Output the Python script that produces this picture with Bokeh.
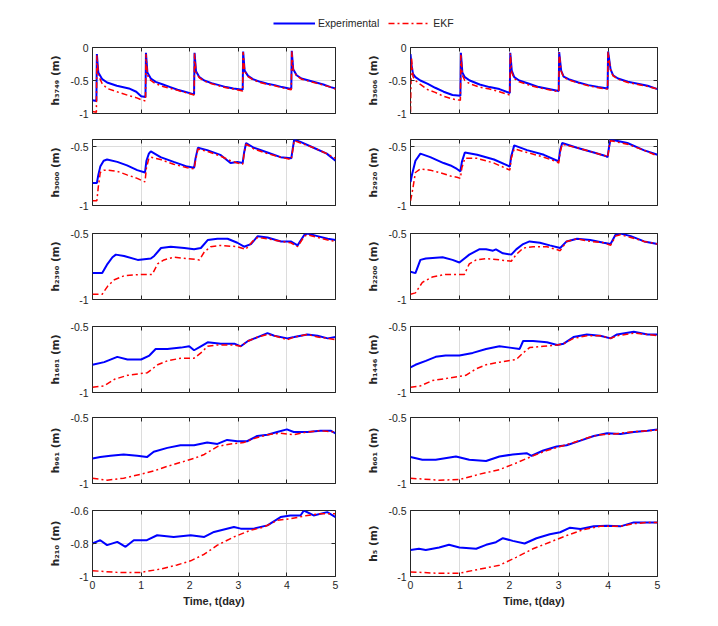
from bokeh.plotting import figure
from bokeh.layouts import column, row
from bokeh.models import (Range1d, FixedTicker, Legend, LegendItem, LinearAxis,
                          PrintfTickFormatter, CustomJSTickFormatter)
from bokeh.embed import file_html
from bokeh.resources import INLINE

# ---------------- data ----------------
# h3749 (row 1, left)
T_3749 = [0, 0.08, 0.09, 0.12, 0.2, 0.3, 0.5, 0.75, 0.9, 1.0, 1.09,
          1.10, 1.13, 1.2, 1.3, 1.45, 1.6, 1.75, 1.9, 2.09,
          2.10, 2.13, 2.2, 2.3, 2.45, 2.6, 2.75, 2.9, 3.09,
          3.10, 3.13, 3.2, 3.3, 3.45, 3.6, 3.75, 3.9, 4.09,
          4.10, 4.13, 4.2, 4.3, 4.45, 4.6, 4.75, 4.9, 5.0]
EXP_3749 = [-0.80, -0.81, -0.10, -0.38, -0.48, -0.53, -0.58, -0.62, -0.67, -0.74, -0.75,
            -0.08, -0.38, -0.47, -0.52, -0.56, -0.60, -0.64, -0.67, -0.71,
            -0.08, -0.36, -0.45, -0.50, -0.54, -0.57, -0.60, -0.62, -0.64,
            -0.06, -0.35, -0.43, -0.48, -0.52, -0.55, -0.57, -0.60, -0.63,
            -0.05, -0.33, -0.42, -0.47, -0.50, -0.53, -0.56, -0.60, -0.62]
EKF_3749 = [-0.97, -0.98, -0.12, -0.42, -0.55, -0.62, -0.67, -0.73, -0.76, -0.79, -0.81,
            -0.10, -0.42, -0.50, -0.55, -0.59, -0.62, -0.65, -0.68, -0.72,
            -0.09, -0.38, -0.46, -0.51, -0.55, -0.58, -0.61, -0.63, -0.66,
            -0.07, -0.36, -0.44, -0.49, -0.53, -0.56, -0.58, -0.61, -0.64,
            -0.06, -0.34, -0.43, -0.48, -0.51, -0.54, -0.57, -0.60, -0.63]

# h3606 (row 1, right)
T_3606 = [0, 0.02, 0.05, 0.1, 0.2, 0.35, 0.5, 0.67, 0.85, 1.01,
          1.02, 1.05, 1.1, 1.2, 1.4, 1.6, 1.8, 2.01,
          2.02, 2.05, 2.1, 2.2, 2.4, 2.6, 2.8, 3.0,
          3.01, 3.05, 3.1, 3.2, 3.4, 3.6, 3.8, 3.99,
          4.0, 4.05, 4.1, 4.2, 4.4, 4.6, 4.8, 5.0]
EXP_3606 = [-0.10, -0.26, -0.40, -0.45, -0.50, -0.55, -0.61, -0.67, -0.72, -0.73,
            -0.08, -0.38, -0.45, -0.50, -0.56, -0.60, -0.63, -0.69,
            -0.08, -0.35, -0.45, -0.50, -0.55, -0.60, -0.63, -0.66,
            -0.07, -0.35, -0.44, -0.48, -0.53, -0.57, -0.60, -0.62,
            -0.06, -0.33, -0.42, -0.47, -0.52, -0.55, -0.58, -0.63]
EKF_3606 = [-0.98, -0.15, -0.44, -0.50, -0.56, -0.64, -0.68, -0.74, -0.78, -0.80,
            -0.10, -0.42, -0.50, -0.55, -0.60, -0.63, -0.67, -0.72,
            -0.09, -0.38, -0.47, -0.52, -0.57, -0.61, -0.64, -0.67,
            -0.08, -0.36, -0.45, -0.49, -0.54, -0.58, -0.61, -0.63,
            -0.07, -0.34, -0.43, -0.48, -0.53, -0.56, -0.59, -0.63]

# h3000 (row 2, left)
T_3000 = [0, 0.09, 0.12, 0.16, 0.23, 0.3, 0.51, 0.71, 0.92,
          1.08, 1.11, 1.16, 1.2, 1.4, 1.67, 1.95,
          2.09, 2.12, 2.17, 2.36, 2.63, 2.84, 2.98,
          3.09, 3.12, 3.16, 3.32, 3.6, 3.87,
          4.09, 4.12, 4.15, 4.28, 4.55, 4.82, 5.0]
EXP_3000 = [-0.81, -0.81, -0.74, -0.67, -0.62, -0.61, -0.63, -0.66, -0.70,
            -0.72, -0.62, -0.56, -0.54, -0.59, -0.63, -0.67,
            -0.68, -0.60, -0.51, -0.53, -0.57, -0.64, -0.63,
            -0.64, -0.55, -0.47, -0.51, -0.55, -0.59,
            -0.60, -0.52, -0.44, -0.46, -0.51, -0.56, -0.62]
EKF_3000 = [-0.96, -0.96, -0.84, -0.72, -0.70, -0.70, -0.71, -0.74, -0.77,
            -0.80, -0.68, -0.60, -0.59, -0.61, -0.65, -0.68,
            -0.69, -0.62, -0.52, -0.54, -0.58, -0.62, -0.64,
            -0.65, -0.56, -0.48, -0.52, -0.56, -0.59,
            -0.61, -0.53, -0.45, -0.47, -0.51, -0.56, -0.60]

# h2920 (row 2, right)
T_2920 = [0, 0.03, 0.1, 0.2, 0.4, 0.67, 0.81, 0.94,
          1.01, 1.04, 1.1, 1.35, 1.69, 1.96,
          2.01, 2.04, 2.1, 2.36, 2.7, 2.97,
          3.0, 3.03, 3.07, 3.37, 3.71, 3.95,
          3.99, 4.02, 4.05, 4.39, 4.72, 5.0]
EXP_2920 = [-0.80, -0.74, -0.62, -0.56, -0.59, -0.64, -0.66, -0.69,
            -0.71, -0.63, -0.55, -0.57, -0.61, -0.66,
            -0.67, -0.58, -0.49, -0.53, -0.57, -0.62,
            -0.62, -0.53, -0.47, -0.51, -0.55, -0.58,
            -0.59, -0.50, -0.44, -0.47, -0.53, -0.57]
EKF_2920 = [-0.96, -0.90, -0.72, -0.69, -0.70, -0.73, -0.75, -0.76,
            -0.77, -0.68, -0.60, -0.60, -0.64, -0.69,
            -0.70, -0.60, -0.52, -0.55, -0.59, -0.63,
            -0.64, -0.55, -0.48, -0.51, -0.55, -0.58,
            -0.59, -0.51, -0.45, -0.48, -0.53, -0.58]

# h2390 (row 3, left)
TE_2390 = [0, 0.1, 0.2, 0.31, 0.41, 0.48, 0.65, 0.93, 1.2, 1.27,
           1.41, 1.61, 1.89, 2.09, 2.23, 2.37, 2.57, 2.78, 2.98, 3.12,
           3.26, 3.4, 3.6, 3.88, 4.08, 4.22, 4.36, 4.42, 4.63, 4.84, 5.0]
EXP_2390 = [-0.80, -0.80, -0.80, -0.73, -0.68, -0.66, -0.67, -0.70, -0.69, -0.67,
            -0.61, -0.60, -0.61, -0.62, -0.61, -0.55, -0.54, -0.54, -0.57, -0.60,
            -0.58, -0.52, -0.53, -0.56, -0.56, -0.59, -0.51, -0.50, -0.52, -0.54, -0.55]
TK_2390 = [0, 0.2, 0.31, 0.45, 0.65, 1.0, 1.23, 1.34, 1.47, 1.68,
           1.96, 2.2, 2.3, 2.43, 2.64, 2.98, 3.15, 3.29, 3.4, 3.6,
           3.88, 4.08, 4.22, 4.36, 4.42, 4.63, 4.84, 5.0]
EKF_2390 = [-0.96, -0.96, -0.90, -0.85, -0.82, -0.81, -0.81, -0.73, -0.70, -0.68,
            -0.69, -0.70, -0.64, -0.60, -0.59, -0.60, -0.62, -0.56, -0.53, -0.54,
            -0.56, -0.57, -0.60, -0.52, -0.51, -0.53, -0.55, -0.56]

# h2200 (row 3, right)
TE_2200 = [0, 0.1, 0.2, 0.31, 0.65, 0.85, 0.99, 1.19, 1.39, 1.53,
           1.67, 1.73, 1.87, 2.04, 2.14, 2.28, 2.41, 2.62, 2.82, 3.03,
           3.16, 3.37, 3.64, 3.91, 4.05, 4.15, 4.25, 4.46, 4.73, 5.0]
EXP_2200 = [-0.79, -0.80, -0.70, -0.69, -0.68, -0.70, -0.72, -0.66, -0.62, -0.62,
            -0.63, -0.62, -0.65, -0.66, -0.62, -0.58, -0.56, -0.57, -0.59, -0.61,
            -0.56, -0.54, -0.55, -0.57, -0.58, -0.51, -0.50, -0.52, -0.56, -0.58]
TK_2200 = [0, 0.1, 0.24, 0.44, 0.71, 0.99, 1.09, 1.19, 1.33, 1.53,
           1.8, 2.04, 2.14, 2.28, 2.48, 2.76, 3.03, 3.16, 3.37, 3.64,
           3.91, 4.05, 4.15, 4.25, 4.46, 4.73, 5.0]
EKF_2200 = [-0.96, -0.95, -0.87, -0.83, -0.81, -0.81, -0.81, -0.73, -0.70, -0.69,
            -0.70, -0.71, -0.66, -0.61, -0.60, -0.60, -0.63, -0.56, -0.54, -0.56,
            -0.57, -0.59, -0.52, -0.51, -0.53, -0.56, -0.58]

# h1681 (row 4, left)
TE_1681 = [0, 0.24, 0.51, 0.72, 1.0, 1.17, 1.3, 1.54, 1.82, 1.99,
           2.09, 2.23, 2.37, 2.64, 2.92, 3.05, 3.2, 3.4, 3.6, 3.74,
           4.01, 4.15, 4.42, 4.63, 4.84, 5.0]
EXP_1681 = [-0.79, -0.77, -0.73, -0.75, -0.75, -0.72, -0.67, -0.67, -0.66, -0.65,
            -0.68, -0.65, -0.62, -0.63, -0.63, -0.65, -0.61, -0.58, -0.55, -0.57,
            -0.59, -0.58, -0.56, -0.57, -0.59, -0.58]
TK_1681 = [0, 0.24, 0.45, 0.72, 1.13, 1.34, 1.54, 1.82, 2.09, 2.23,
           2.37, 2.57, 2.92, 3.05, 3.2, 3.4, 3.6, 3.74, 4.01, 4.15,
           4.42, 4.63, 4.84, 5.0]
EKF_1681 = [-0.96, -0.95, -0.90, -0.87, -0.85, -0.79, -0.76, -0.74, -0.74, -0.70,
            -0.65, -0.64, -0.64, -0.65, -0.61, -0.58, -0.56, -0.57, -0.60, -0.58,
            -0.56, -0.58, -0.59, -0.60]

# h1446 (row 4, right)
TE_1446 = [0, 0.1, 0.31, 0.51, 0.71, 0.99, 1.26, 1.53, 1.8, 2.01,
           2.21, 2.28, 2.48, 2.76, 2.97, 3.1, 3.3, 3.57, 3.84, 4.05,
           4.18, 4.52, 4.8, 5.0]
EXP_1446 = [-0.81, -0.79, -0.76, -0.73, -0.72, -0.72, -0.70, -0.67, -0.65, -0.66,
            -0.67, -0.61, -0.61, -0.62, -0.64, -0.63, -0.58, -0.56, -0.57, -0.59,
            -0.56, -0.54, -0.56, -0.56]
TK_1446 = [0, 0.2, 0.44, 0.78, 1.12, 1.33, 1.53, 1.8, 2.14, 2.28,
           2.41, 2.69, 2.97, 3.1, 3.3, 3.57, 3.84, 4.05, 4.18, 4.52,
           4.8, 5.0]
EKF_1446 = [-0.96, -0.95, -0.91, -0.89, -0.87, -0.82, -0.79, -0.77, -0.75, -0.70,
            -0.66, -0.65, -0.64, -0.63, -0.59, -0.57, -0.57, -0.59, -0.57, -0.55,
            -0.56, -0.57]

# h961 (row 5, left)
TE_961 = [0, 0.16, 0.37, 0.64, 0.92, 1.12, 1.26, 1.54, 1.81, 2.09,
          2.36, 2.57, 2.77, 2.98, 3.18, 3.39, 3.6, 3.8, 4.0, 4.14,
          4.42, 4.69, 4.9, 5.0]
EXP_961 = [-0.81, -0.80, -0.79, -0.78, -0.79, -0.80, -0.76, -0.73, -0.71, -0.71,
           -0.69, -0.70, -0.67, -0.68, -0.68, -0.64, -0.63, -0.61, -0.59, -0.61,
           -0.61, -0.60, -0.60, -0.62]
TK_961 = [0, 0.3, 0.64, 0.99, 1.26, 1.54, 1.81, 2.09, 2.3, 2.57,
          2.84, 3.11, 3.32, 3.6, 3.87, 4.14, 4.42, 4.69, 5.0]
EKF_961 = [-0.96, -0.975, -0.96, -0.93, -0.905, -0.87, -0.84, -0.81, -0.78, -0.72,
           -0.70, -0.69, -0.66, -0.63, -0.62, -0.63, -0.61, -0.60, -0.61]

# h601 (row 5, right)
TE_601 = [0, 0.24, 0.51, 0.92, 1.19, 1.53, 1.8, 2.07, 2.35, 2.45,
          2.69, 2.96, 3.16, 3.44, 3.71, 3.98, 4.25, 4.52, 4.8, 5.0]
EXP_601 = [-0.80, -0.82, -0.82, -0.795, -0.82, -0.83, -0.795, -0.78, -0.77, -0.79,
           -0.75, -0.72, -0.71, -0.675, -0.64, -0.62, -0.625, -0.61, -0.60, -0.59]
TK_601 = [0, 0.58, 0.99, 1.39, 1.8, 2.14, 2.48, 2.76, 3.03, 3.3,
          3.57, 3.84, 4.12, 4.46, 4.8, 5.0]
EKF_601 = [-0.96, -0.975, -0.97, -0.93, -0.895, -0.845, -0.79, -0.75, -0.72, -0.69,
           -0.655, -0.63, -0.625, -0.61, -0.60, -0.595]

# h210 (row 6, left)
TE_210 = [0, 0.16, 0.3, 0.51, 0.68, 0.85, 1.12, 1.33, 1.67, 2.02,
          2.3, 2.5, 2.91, 3.05, 3.32, 3.6, 3.87, 4.07, 4.28, 4.35,
          4.55, 4.83, 5.0]
EXP_210 = [-0.80, -0.78, -0.81, -0.79, -0.82, -0.78, -0.78, -0.75, -0.76, -0.75,
           -0.76, -0.73, -0.70, -0.71, -0.71, -0.69, -0.64, -0.63, -0.63, -0.60,
           -0.63, -0.61, -0.64]
TK_210 = [0, 0.51, 0.99, 1.4, 1.74, 2.02, 2.3, 2.57, 2.91, 3.25,
          3.53, 3.8, 4.07, 4.42, 4.69, 5.0]
EKF_210 = [-0.965, -0.975, -0.975, -0.955, -0.93, -0.905, -0.865, -0.81, -0.76, -0.72,
           -0.70, -0.66, -0.65, -0.63, -0.62, -0.62]

# h5 (row 6, right)
TE_5 = [0, 0.17, 0.31, 0.58, 0.78, 0.99, 1.33, 1.53, 1.73, 1.87,
        2.07, 2.31, 2.55, 2.82, 3.03, 3.23, 3.44, 3.71, 3.98, 4.25,
        4.52, 4.8, 5.0]
EXP_5 = [-0.80, -0.79, -0.80, -0.78, -0.76, -0.78, -0.79, -0.76, -0.74, -0.71,
         -0.73, -0.75, -0.71, -0.68, -0.665, -0.63, -0.64, -0.62, -0.615, -0.62,
         -0.59, -0.59, -0.59]
TK_5 = [0, 0.51, 0.99, 1.39, 1.8, 2.14, 2.48, 2.82, 3.16, 3.5,
        3.84, 3.98, 4.25, 4.52, 4.8, 5.0]
EKF_5 = [-0.965, -0.975, -0.975, -0.945, -0.915, -0.855, -0.79, -0.74, -0.69, -0.645,
         -0.62, -0.62, -0.62, -0.60, -0.59, -0.59]

X_TICKS = [0, 1, 2, 3, 4, 5]
LEGEND_LABELS = ["Experimental", "EKF"]

# panel list: (node, exp t, exp v, ekf t, ekf v, y-range, y-ticks)
PANELS = [
    [("3749", T_3749, EXP_3749, T_3749, EKF_3749, (-1, 0), [-1, -0.5, 0]),
     ("3606", T_3606, EXP_3606, T_3606, EKF_3606, (-1, 0), [-1, -0.5, 0])],
    [("3000", T_3000, EXP_3000, T_3000, EKF_3000, (-1, -0.44), [-1, -0.5]),
     ("2920", T_2920, EXP_2920, T_2920, EKF_2920, (-1, -0.44), [-1, -0.5])],
    [("2390", TE_2390, EXP_2390, TK_2390, EKF_2390, (-1, -0.5), [-1, -0.5]),
     ("2200", TE_2200, EXP_2200, TK_2200, EKF_2200, (-1, -0.5), [-1, -0.5])],
    [("1681", TE_1681, EXP_1681, TK_1681, EKF_1681, (-1, -0.5), [-1, -0.5]),
     ("1446", TE_1446, EXP_1446, TK_1446, EKF_1446, (-1, -0.5), [-1, -0.5])],
    [("961", TE_961, EXP_961, TK_961, EKF_961, (-1, -0.5), [-1, -0.5]),
     ("601", TE_601, EXP_601, TK_601, EKF_601, (-1, -0.5), [-1, -0.5])],
    [("210", TE_210, EXP_210, TK_210, EKF_210, (-1, -0.6), [-1, -0.8, -0.6]),
     ("5", TE_5, EXP_5, TK_5, EKF_5, (-1, -0.5), [-1, -0.5])],
]

# ---------------- styling / layout ----------------
FONT = "Liberation Sans"
LABEL_FONT = "DejaVu Sans"
AX = "#262626"
GRID = "#dcdcdc"
BLUE = "#0000ff"
RED = "#ff0000"
SUB = str.maketrans("0123456789", "₀₁₂₃₄₅₆₇₈₉")

FRAME_TOPS = [47, 139, 233, 326, 417, 510]
FRAME_H = 66
TOP_B = 10
LAST_BOTTOM = 42
LEFT_COL = (92, 243, 12)
RIGHT_COL = (63, 247, 10)


def blank():
    return CustomJSTickFormatter(code="return ''")


def make_panel(spec, left_col, top_b, bot_b, last_row):
    node, te, ve, tk, vk, yr, yt = spec
    bl, fw, br = LEFT_COL if left_col else RIGHT_COL
    p = figure(frame_width=fw, frame_height=FRAME_H,
               min_border_left=bl, min_border_right=br,
               min_border_top=top_b, min_border_bottom=bot_b,
               x_range=Range1d(0, 5), y_range=Range1d(*yr),
               output_backend="svg", toolbar_location=None,
               background_fill_color="white", border_fill_color="white")
    p.outline_line_color = AX
    p.outline_line_alpha = 1
    p.outline_line_width = 1

    p.xaxis.ticker = FixedTicker(ticks=X_TICKS)
    p.yaxis.ticker = FixedTicker(ticks=yt)
    p.yaxis.formatter = PrintfTickFormatter(format="%g")
    if last_row:
        p.xaxis.formatter = PrintfTickFormatter(format="%g")
        p.xaxis.axis_label = "Time, t(day)"
        p.xaxis.axis_label_text_font = FONT
        p.xaxis.axis_label_text_font_style = "bold"
        p.xaxis.axis_label_text_font_size = "11px"
        p.xaxis.axis_label_text_color = AX
        p.xaxis.axis_label_standoff = 3
        p.xaxis.major_label_standoff = 4
    else:
        p.xaxis.formatter = blank()
        p.xaxis.major_label_standoff = 0

    for ax in (p.xaxis[0], p.yaxis[0]):
        ax.axis_line_color = None
        ax.major_tick_in = 4
        ax.major_tick_out = 0
        ax.minor_tick_in = 0
        ax.minor_tick_out = 0
        ax.major_tick_line_color = AX
        ax.major_label_text_font = FONT
        ax.major_label_text_font_size = "10.5px"
        ax.major_label_text_color = AX

    p.yaxis.major_label_standoff = 4
    p.yaxis.axis_label = "h" + node.translate(SUB) + " (m)"
    p.yaxis.axis_label_text_font = LABEL_FONT
    p.yaxis.axis_label_text_font_style = "bold"
    p.yaxis.axis_label_text_font_size = "10.5px"
    p.yaxis.axis_label_text_color = AX
    p.yaxis.axis_label_standoff = 6

    # mirrored ticks on the top and right edges of the box
    top_ax = LinearAxis(ticker=FixedTicker(ticks=X_TICKS), formatter=blank(),
                        axis_line_color=None, major_tick_in=4, major_tick_out=0,
                        minor_tick_in=0, minor_tick_out=0,
                        major_tick_line_color=AX, major_label_standoff=0)
    right_ax = LinearAxis(ticker=FixedTicker(ticks=yt), formatter=blank(),
                          axis_line_color=None, major_tick_in=4, major_tick_out=0,
                          minor_tick_in=0, minor_tick_out=0,
                          major_tick_line_color=AX, major_label_standoff=0)
    p.add_layout(top_ax, "above")
    p.add_layout(right_ax, "right")

    p.xgrid.grid_line_color = GRID
    p.ygrid.grid_line_color = GRID
    p.xgrid.grid_line_width = 1
    p.ygrid.grid_line_width = 1

    p.line(te, ve, line_color=BLUE, line_width=2)
    p.line(tk, vk, line_color=RED, line_width=1.5, line_dash="6 3 2 3")
    return p


rows = []
for i, pair in enumerate(PANELS):
    last = i == len(PANELS) - 1
    if last:
        bot = LAST_BOTTOM
    else:
        bot = FRAME_TOPS[i + 1] - FRAME_TOPS[i] - FRAME_H - TOP_B
    left = make_panel(pair[0], True, TOP_B, bot, last)
    right = make_panel(pair[1], False, TOP_B, bot, last)
    rows.append(row(left, right))

TOTAL_W = sum(LEFT_COL) + sum(RIGHT_COL)
LEG_H = FRAME_TOPS[0] - TOP_B

# legend strip: its two lines reuse series data that lies outside this strip's
# y-range, so only the legend glyphs are visible
leg = figure(width=TOTAL_W, height=LEG_H, x_axis_type=None, y_axis_type=None,
             output_backend="svg", toolbar_location=None,
             min_border=0, min_border_left=0, min_border_right=0,
             min_border_top=0, min_border_bottom=0,
             x_range=Range1d(0, 5), y_range=Range1d(0, 1))
leg.outline_line_color = None
leg.grid.visible = False
r_exp = leg.line(T_3749, EXP_3749, line_color=BLUE, line_width=2)
r_ekf = leg.line(T_3749, EKF_3749, line_color=RED, line_width=1.5, line_dash="6 3 2 3")
legend = Legend(items=[LegendItem(label=LEGEND_LABELS[0], renderers=[r_exp]),
                       LegendItem(label=LEGEND_LABELS[1], renderers=[r_ekf])],
                orientation="horizontal", location=(273, 8),
                glyph_width=42, glyph_height=12, label_standoff=3, spacing=9,
                padding=0, margin=0, border_line_color=None,
                background_fill_alpha=0,
                label_text_font=FONT, label_text_font_size="10.5px",
                label_text_color=AX, label_height=12)
leg.add_layout(legend, "center")

layout = column(leg, *rows)
open("out.html", "w").write(file_html(layout, INLINE))
